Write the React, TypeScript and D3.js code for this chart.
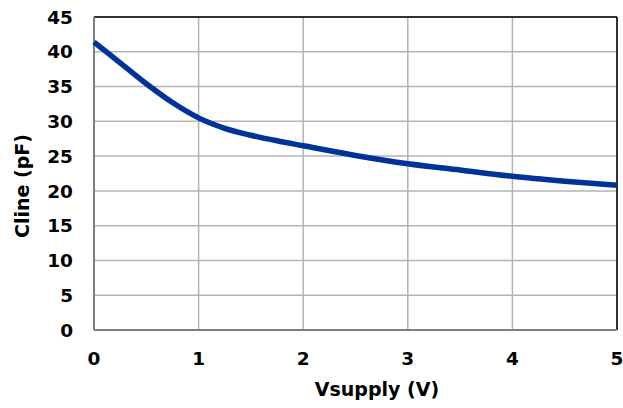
import React, { useEffect, useRef } from 'react'
import * as d3 from 'd3'

const vsupply = [0, 0.25, 0.5, 0.75, 1, 1.25, 1.5, 1.75, 2, 2.5, 3, 3.5, 4, 4.5, 5]
const cline = [41.4, 38.4, 35.4, 32.7, 30.5, 29.0, 28.0, 27.2, 26.5, 25.1, 23.9, 23.0, 22.1, 21.4, 20.8]
const xTicks = [0, 1, 2, 3, 4, 5]
const yTicks = [0, 5, 10, 15, 20, 25, 30, 35, 40, 45]

const width = 623
const height = 408
const margin = { top: 17, right: 6, bottom: 78, left: 94 }
const font = 'DejaVu Sans, Verdana, sans-serif'

const App = () => {
  const ref = useRef<SVGSVGElement>(null)

  useEffect(() => {
    const svg = d3.select(ref.current)
    svg.selectAll('*').remove()

    const w = width - margin.left - margin.right
    const h = height - margin.top - margin.bottom

    const x = d3.scaleLinear().domain([0, 5]).range([0, w])
    const y = d3.scaleLinear().domain([0, 45]).range([h, 0])

    const g = svg.append('g')
      .attr('transform', `translate(${margin.left},${margin.top})`)

    // grid
    g.append('g').selectAll('line')
      .data(yTicks)
      .enter().append('line')
      .attr('x1', 0).attr('x2', w)
      .attr('y1', d => y(d)).attr('y2', d => y(d))
      .attr('stroke', '#b3b3b3').attr('stroke-width', 1.5)

    g.append('g').selectAll('line')
      .data(xTicks)
      .enter().append('line')
      .attr('x1', d => x(d)).attr('x2', d => x(d))
      .attr('y1', 0).attr('y2', h)
      .attr('stroke', '#b3b3b3').attr('stroke-width', 1.5)

    // frame
    g.append('line').attr('x1', 0).attr('x2', w).attr('y1', 0).attr('y2', 0)
      .attr('stroke', '#000').attr('stroke-width', 1.5)
    g.append('line').attr('x1', w).attr('x2', w).attr('y1', 0).attr('y2', h)
      .attr('stroke', '#000').attr('stroke-width', 1.5)
    g.append('line').attr('x1', 0).attr('x2', 0).attr('y1', 0).attr('y2', h)
      .attr('stroke', '#7f7f7f').attr('stroke-width', 2)
    g.append('line').attr('x1', 0).attr('x2', w).attr('y1', h).attr('y2', h)
      .attr('stroke', '#7f7f7f').attr('stroke-width', 2)

    // tick labels
    g.append('g').selectAll('text')
      .data(yTicks)
      .enter().append('text')
      .attr('x', -21).attr('y', d => y(d))
      .attr('dy', '0.36em')
      .attr('text-anchor', 'end')
      .attr('font-family', font)
      .attr('font-weight', 'bold').attr('font-size', 18.5)
      .text(d => d)

    g.append('g').selectAll('text')
      .data(xTicks)
      .enter().append('text')
      .attr('x', d => x(d)).attr('y', h + 35)
      .attr('text-anchor', 'middle')
      .attr('font-family', font)
      .attr('font-weight', 'bold').attr('font-size', 18.5)
      .text(d => d)

    // axis titles
    svg.append('text')
      .attr('x', 377).attr('y', 396)
      .attr('text-anchor', 'middle')
      .attr('font-family', font)
      .attr('font-weight', 'bold').attr('font-size', 19)
      .text('Vsupply (V)')

    svg.append('text')
      .attr('transform', `translate(29,186) rotate(-90)`)
      .attr('text-anchor', 'middle')
      .attr('font-family', font)
      .attr('font-weight', 'bold').attr('font-size', 19)
      .text('Cline (pF)')

    // curve
    const line = d3.line<number>()
      .x((d, i) => x(vsupply[i]))
      .y(d => y(d))
      .curve(d3.curveMonotoneX)

    g.append('path')
      .datum(cline)
      .attr('fill', 'none')
      .attr('stroke', '#003399')
      .attr('stroke-width', 5.5)
      .attr('stroke-linejoin', 'round')
      .attr('d', line)
  }, [])

  return (
    <svg ref={ref} width={width} height={height}
      style={{ position: 'absolute', left: 0, top: 0, background: '#fff' }} />
  )
}

export default App
